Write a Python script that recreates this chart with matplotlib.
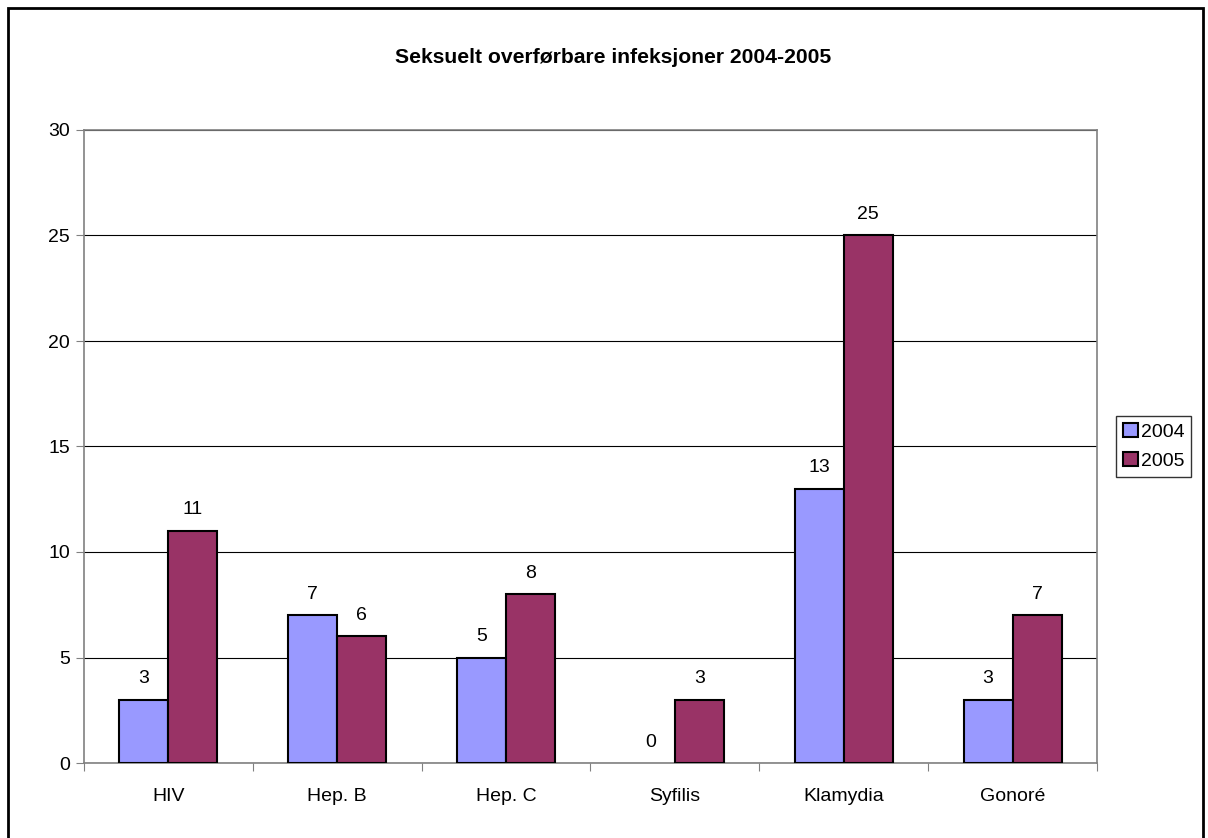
import matplotlib.pyplot as plt
import numpy as np
from matplotlib.patches import Rectangle

# Data
categories = ["HIV", "Hep. B", "Hep. C", "Syfilis", "Klamydia", "Gonoré"]
values_2004 = [3, 7, 5, 0, 13, 3]
values_2005 = [11, 6, 8, 3, 25, 7]
series_labels = ["2004", "2005"]
title = "Seksuelt overførbare infeksjoner 2004-2005"

plt.rcParams['font.family'] = ['Liberation Sans', 'DejaVu Sans']
fs = 14

fig = plt.figure(figsize=(12.08, 8.38), dpi=100)
ax = fig.add_axes([84 / 1208, 1 - 763 / 838, (1097 - 84) / 1208, (763 - 130) / 838])

x = np.arange(len(categories))
w = 0.29
b1 = ax.bar(x - w / 2, values_2004, w, color="#9999FF", edgecolor="black", linewidth=1.5,
            label=series_labels[0], zorder=3)
b2 = ax.bar(x + w / 2, values_2005, w, color="#993366", edgecolor="black", linewidth=1.5,
            label=series_labels[1], zorder=3)

for bars in (b1, b2):
    for rect in bars:
        h = rect.get_height()
        if h == 0:
            rect.set_linewidth(0)
        ax.annotate(f"{int(h)}", (rect.get_x() + rect.get_width() / 2, h),
                    xytext=(0, 9), textcoords="offset points",
                    ha="center", va="bottom", fontsize=fs)

ax.set_xlim(-0.5, len(categories) - 0.5)
ax.set_ylim(0, 30)
ax.set_yticks(range(0, 31, 5))
ax.set_xticks(np.arange(-0.5, len(categories), 1), minor=False)
ax.set_xticklabels([])
ax.set_xticks(x, minor=True)
ax.set_xticklabels(categories, minor=True, fontsize=fs)
ax.tick_params(axis="x", which="minor", length=0, pad=18)
ax.tick_params(axis="x", which="major", length=6, direction="out", color="#808080")
ax.tick_params(axis="y", length=6, direction="out", color="#808080", labelsize=fs, pad=4)

ax.yaxis.grid(True, color="black", linewidth=0.8, zorder=0)
for s in ax.spines.values():
    s.set_color("#808080")
    s.set_linewidth(1.2)

ax.set_title(title, fontsize=15.2, fontweight="bold", pad=48, x=0.522)

leg = ax.legend(loc="center left", bbox_to_anchor=(1.019, 0.5), fontsize=fs,
                frameon=True, fancybox=False, edgecolor="black",
                handlelength=0.75, handleheight=0.75, handletextpad=0.15,
                borderpad=0.35, labelspacing=0.55, borderaxespad=0)
leg.get_frame().set_linewidth(1)

fig.patches.append(Rectangle((8 / 1208, -0.01), (1203 - 8) / 1208, 1.01 - 8 / 838,
                             transform=fig.transFigure, fill=False,
                             edgecolor="black", linewidth=2))

fig.savefig("out.png", dpi=100)
